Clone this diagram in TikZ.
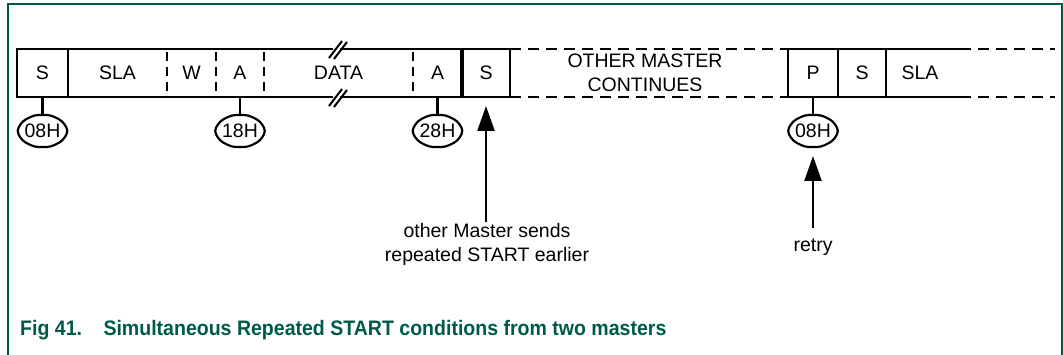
\documentclass[tikz,border=0pt]{standalone}
\usepackage{fontspec}
\setmainfont{Liberation Sans}
\usetikzlibrary{arrows.meta,shapes.geometric}
\definecolor{nxpgreen}{RGB}{0,90,72}
\begin{document}
\begin{tikzpicture}[x=1pt,y=-1pt,
  line/.style={line width=2.3pt},
  dline/.style={line width=2.3pt,dash pattern=on 11pt off 7pt},
  vdline/.style={line width=2.3pt,dash pattern=on 9pt off 6pt,dash phase=-3pt},
  field/.style={font=\fontsize{19.5}{23}\selectfont,inner sep=0pt,anchor=center},
  label/.style={font=\fontsize{19.5}{24}\selectfont,inner sep=0pt,align=center},
  status/.style={inner sep=0pt,minimum width=52pt,minimum height=32pt,font=\fontsize{19.5}{22}\selectfont},
  oct/.style={line width=2.2pt,rounded corners=4pt},
  arr/.style={line width=2.4pt,-{Triangle[length=25pt,width=17pt]}}]
\useasboundingbox (0,0) rectangle (1063,355);
% frame
\draw[nxpgreen,line width=2pt] (8,360) -- (8,4.5) -- (1062,4.5) -- (1062,360);
% solid top/bottom lines
\draw[line] (17,49) -- (333,49) (340,49) -- (510,49);
\draw[line] (17,97) -- (333,97) (340,97) -- (510,97);
\draw[line] (788,49) -- (960,49) (788,97) -- (960,97);
% dashed
\draw[dline] (510,49) -- (788,49) (510,97) -- (788,97);
\draw[dline] (960,49) -- (1055,49) (960,97) -- (1055,97);
% break marks
\foreach \y in {49,97}{
  \draw[line width=2pt] (329,\y+9) -- (342,\y-8);
  \draw[line width=2pt] (334,\y+10) -- (347,\y-7);
}
% verticals
\draw[line] (17,47.85) -- (17,98.15);
\draw[line] (68,49) -- (68,97);
\draw[vdline] (167,49) -- (167,97);
\draw[vdline] (216,49) -- (216,97);
\draw[vdline] (264,49) -- (264,97);
\draw[vdline] (413,49) -- (413,97);
\draw[line width=4pt] (462,49) -- (462,97);
\draw[line] (510,49) -- (510,97);
\draw[line] (788,49) -- (788,97);
\draw[line] (838,49) -- (838,97);
\draw[line] (886,49) -- (886,97);
% fields
\node[field] (fS1) at (42.5,73) {S};
\node[field] (fSLA1) at (117.5,73) {SLA};
\node[field] (fW) at (191.5,73) {W};
\node[field] (fA1) at (240,73) {A};
\node[field] (fDATA) at (338.5,73) {DATA};
\node[field] (fA2) at (437.5,73) {A};
\node[field] (fS2) at (486,73) {S};
\node[label] (fOther) at (645,73) {OTHER MASTER\\CONTINUES};
\node[field] (fP) at (813,73) {P};
\node[field] (fS3) at (862,73) {S};
\node[field] (fSLA2) at (920,73) {SLA};
% status codes
\node[status] (c1) at (42.5,131) {08H};
\node[status] (c2) at (240,131) {18H};
\node[status] (c3) at (437.5,131) {28H};
\node[status] (c4) at (813,131) {08H};
\foreach \c in {c1,c2,c3,c4}{
  \draw[oct] ([shift={(-26,0)}]\c.center) -- ([shift={(-20,-10)}]\c.center) -- ([shift={(-8,-16)}]\c.center)
    -- ([shift={(8,-16)}]\c.center) -- ([shift={(20,-10)}]\c.center) -- ([shift={(26,0)}]\c.center)
    -- ([shift={(20,10)}]\c.center) -- ([shift={(8,16)}]\c.center) -- ([shift={(-8,16)}]\c.center)
    -- ([shift={(-20,10)}]\c.center) -- cycle;
}
\coordinate (b1) at (42.5,97);
\coordinate (b2) at (240,97);
\coordinate (b3) at (437.5,97);
\coordinate (b4) at (813,97);
\draw[line] (b1) -- (c1.north);
\draw[line] (b2) -- (c2.north);
\draw[line] (b3) -- (c3.north);
\draw[line] (b4) -- (c4.north);
% arrows
\node[label] (t1) at (487,244) {other Master sends\\repeated START earlier};
\coordinate (a1) at (486,106);
\draw[arr] (486,222) -- (a1);
\node[label] (t2) at (813,247) {retry};
\coordinate (a2) at (813,156);
\draw[arr] (813,228) -- (a2);
% caption
\node[anchor=west,inner sep=0pt,text=nxpgreen,font=\fontsize{21}{24}\selectfont\bfseries] (cap) at (20,330)
  {\scalebox{0.93}[1]{Fig 41.\hspace{1.1em}Simultaneous Repeated START conditions from two masters}};
\end{tikzpicture}
\end{document}
